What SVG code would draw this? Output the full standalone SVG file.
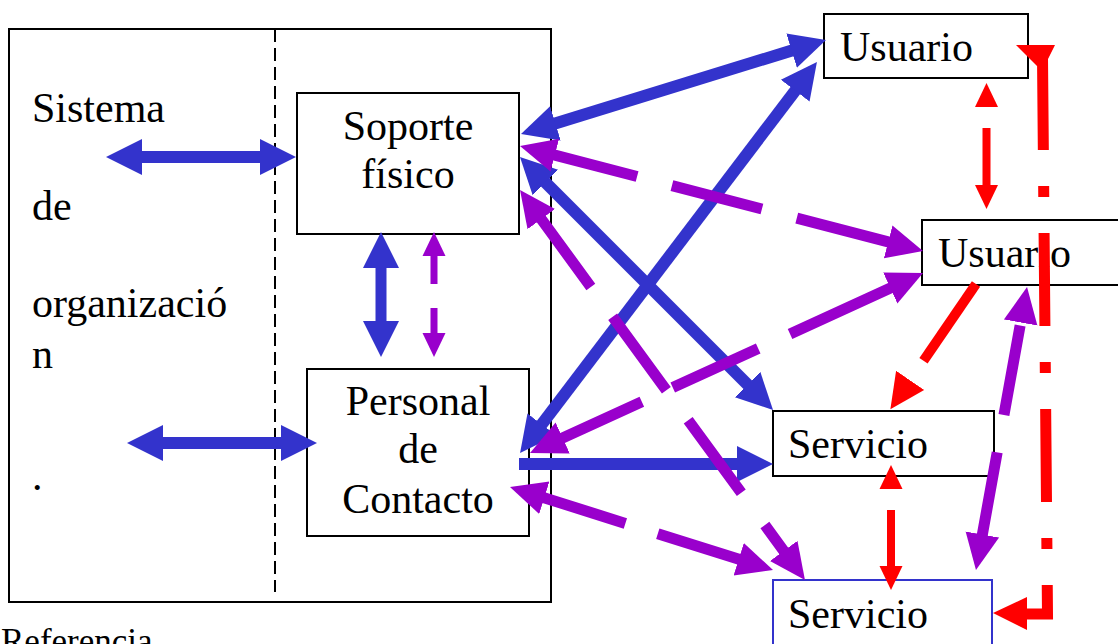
<svg xmlns="http://www.w3.org/2000/svg" width="1118" height="644" viewBox="0 0 1118 644">
  <style>
    .box { fill: #FFFFFF; stroke: #000000; stroke-width: 2; }
    .lbl { font-family: "Liberation Serif", "Times New Roman", serif; font-size: 42px; fill: #000000; }
    .mid { text-anchor: middle; }
    .blue { stroke: #3333CC; stroke-width: 12; fill: none; }
    .purple { stroke: #9900CC; stroke-width: 11; fill: none; }
    .purpleThin { stroke: #9900CC; stroke-width: 7; fill: none; }
    .redThin { stroke: #FF0000; stroke-width: 8; fill: none; }
    .red { stroke: #FF0000; stroke-width: 10; fill: none; }
  </style>
  <defs>
    <marker id="hBlue" markerUnits="userSpaceOnUse" viewBox="0 -20 40 40" markerWidth="40" markerHeight="40" refX="2" refY="0" orient="auto-start-reverse">
      <path d="M0,-18 L36,0 L0,18 Z" fill="#3333CC"/>
    </marker>
    <marker id="hPurple" markerUnits="userSpaceOnUse" viewBox="0 -20 40 40" markerWidth="40" markerHeight="40" refX="2" refY="0" orient="auto-start-reverse">
      <path d="M0,-17 L36,0 L0,17 Z" fill="#9900CC"/>
    </marker>
    <marker id="hPurpleS" markerUnits="userSpaceOnUse" viewBox="0 -14 28 28" markerWidth="28" markerHeight="28" refX="2" refY="0" orient="auto-start-reverse">
      <path d="M0,-11.5 L24,0 L0,11.5 Z" fill="#9900CC"/>
    </marker>
    <marker id="hRedS" markerUnits="userSpaceOnUse" viewBox="0 -14 28 28" markerWidth="28" markerHeight="28" refX="2" refY="0" orient="auto-start-reverse">
      <path d="M0,-11.5 L24,0 L0,11.5 Z" fill="#FF0000"/>
    </marker>
    <marker id="hRed" markerUnits="userSpaceOnUse" viewBox="0 -20 40 40" markerWidth="40" markerHeight="40" refX="2" refY="0" orient="auto">
      <path d="M0,-17 L35,0 L0,17 Z" fill="#FF0000"/>
    </marker>
  </defs>

  <rect width="1118" height="644" fill="#FFFFFF"/>

  <!-- organisation frame with its internal boundary -->
  <g id="sistema">
    <rect class="box" x="9" y="29" width="542" height="573" style="fill:none"/>
    <line x1="275" y1="29" x2="275" y2="592" stroke="#000000" stroke-width="2" stroke-dasharray="13 6"/>
    <text class="lbl" x="32" y="122">Sistema</text>
    <text class="lbl" x="32" y="220">de</text>
    <text class="lbl" x="32" y="317">organizació</text>
    <text class="lbl" x="32" y="368">n</text>
    <text class="lbl" x="32" y="490">.</text>
  </g>

  <g id="soporte">
    <rect class="box" x="297" y="93" width="222" height="141"/>
    <text class="lbl mid" x="408" y="140">Soporte</text>
    <text class="lbl mid" x="408" y="188">físico</text>
  </g>

  <g id="personal">
    <rect class="box" x="307" y="369" width="222" height="167"/>
    <text class="lbl mid" x="418" y="415">Personal</text>
    <text class="lbl mid" x="418" y="463">de</text>
    <text class="lbl mid" x="418" y="513">Contacto</text>
  </g>

  <g id="usuario1">
    <rect class="box" x="824" y="14" width="204" height="64"/>
    <text class="lbl" x="840" y="61">Usuario</text>
  </g>

  <g id="usuario2">
    <rect class="box" x="922" y="220" width="210" height="65"/>
    <text class="lbl" x="938" y="267">Usuario</text>
  </g>

  <g id="servicio1">
    <rect class="box" x="773" y="411" width="221" height="65"/>
    <text class="lbl" x="788" y="458">Servicio</text>
  </g>

  <g id="servicio2">
    <rect class="box" x="773" y="580" width="219" height="80" style="stroke:#3333CC"/>
    <text class="lbl" x="788" y="628">Servicio</text>
  </g>

  <text id="referencia" class="lbl" x="1" y="653" style="font-size:35px">Referencia</text>

  <g id="connectors">
    <!-- blue solid links -->
    <line class="blue" x1="140" y1="157" x2="262" y2="157" marker-start="url(#hBlue)" marker-end="url(#hBlue)"/>
    <line class="blue" x1="161" y1="443" x2="283" y2="443" marker-start="url(#hBlue)" marker-end="url(#hBlue)"/>
    <line class="blue" x1="381" y1="266" x2="381" y2="323" style="stroke-width:11" marker-start="url(#hBlue)" marker-end="url(#hBlue)"/>
    <line class="blue" x1="553.5" y1="124" x2="793.5" y2="50" marker-start="url(#hBlue)" marker-end="url(#hBlue)"/>
    <line class="blue" x1="540.6" y1="425.9" x2="796.4" y2="89.1" marker-start="url(#hBlue)" marker-end="url(#hBlue)"/>
    <line class="blue" x1="544" y1="181" x2="749" y2="386" marker-start="url(#hBlue)" marker-end="url(#hBlue)"/>
    <line class="blue" x1="519" y1="464" x2="739" y2="464" marker-end="url(#hBlue)"/>

    <!-- purple dashed links -->
    <line class="purpleThin" x1="434" y1="254" x2="434" y2="335" stroke-dasharray="30 24" marker-start="url(#hPurpleS)" marker-end="url(#hPurpleS)"/>
    <line class="purple" x1="552.9" y1="154.6" x2="890.1" y2="242.4" stroke-dasharray="87 36 93 36 100" marker-start="url(#hPurple)" marker-end="url(#hPurple)"/>
    <line class="purple" x1="540.1" y1="217.5" x2="784.9" y2="552.5" stroke-dasharray="86 37 91 37 90 40 40" marker-start="url(#hPurple)" marker-end="url(#hPurple)"/>
    <line class="purple" x1="560.9" y1="438.8" x2="892.1" y2="287.2" stroke-dasharray="89 34 94 35 120" marker-start="url(#hPurple)" marker-end="url(#hPurple)"/>
    <line class="purple" x1="542.4" y1="497.2" x2="740.6" y2="559.8" stroke-dasharray="87 34 100" marker-start="url(#hPurple)" marker-end="url(#hPurple)"/>
    <line class="purple" x1="1021" y1="320.5" x2="982" y2="536.5" stroke-dasharray="0 5 91 38 90" marker-start="url(#hPurple)" marker-end="url(#hPurple)"/>

    <!-- red dashed links -->
    <line class="redThin" x1="986.5" y1="105" x2="986.5" y2="187" stroke-dasharray="0 23 100" marker-start="url(#hRedS)" marker-end="url(#hRedS)"/>
    <line class="redThin" x1="891" y1="487" x2="891" y2="568" stroke-dasharray="0 23 100" marker-start="url(#hRedS)" marker-end="url(#hRedS)"/>
    <line class="red" x1="976" y1="284" x2="909" y2="382" stroke-dasharray="93 30" marker-end="url(#hRed)"/>

    <!-- red dash-dot elbow from the first user to the second service -->
    <polygon points="1016,45 1055,45 1048,59 1048,66 1037,66" fill="#FF0000"/>
    <path d="M1042.5,57 L1047.5,614 L1027,614" fill="none" stroke="#FF0000" stroke-width="11" stroke-dasharray="93 36 11 36" stroke-linejoin="miter"/>
    <polygon points="993,613 1027,597 1027,630" fill="#FF0000"/>
  </g>
</svg>
